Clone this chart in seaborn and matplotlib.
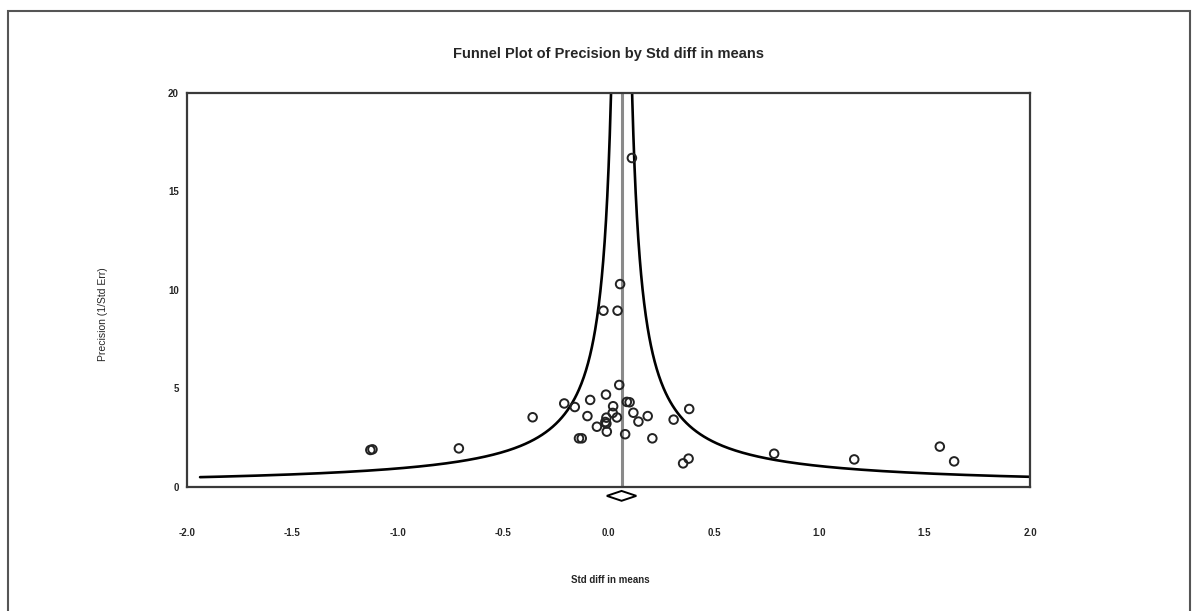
import numpy as np
import pandas as pd
import matplotlib.pyplot as plt
import matplotlib.patches as mpatches
import seaborn as sns

# 研究效应量与精度
std_diff = [-1.13, -1.12, -0.71, -0.36, -0.21, -0.16, -0.14, -0.127, -0.10, -0.087,
            -0.055, -0.012, -0.024, -0.010, -0.010, -0.015, -0.008, 0.022, 0.020, 0.040,
            0.043, 0.051, 0.055, 0.079, 0.087, 0.100, 0.111, 0.118, 0.142, 0.186,
            0.208, 0.309, 0.354, 0.380, 0.383, 0.786, 1.166, 1.572, 1.640]
precision = [1.88, 1.91, 1.96, 3.54, 4.24, 4.06, 2.47, 2.47, 3.60, 4.42,
             3.06, 4.69, 8.95, 3.52, 3.22, 3.30, 2.81, 4.10, 3.76, 3.53,
             8.95, 5.18, 10.3, 2.68, 4.32, 4.30, 16.7, 3.77, 3.32, 3.60,
             2.47, 3.42, 1.20, 1.44, 3.96, 1.69, 1.40, 2.05, 1.30]

# 合并效应及其置信区间
pooled_mean = 0.062
pooled_ci = [-0.008, 0.132]

x_ticks = [-2.0, -1.5, -1.0, -0.5, 0.0, 0.5, 1.0, 1.5, 2.0]
y_ticks = [0, 5, 10, 15, 20]

data = pd.DataFrame({'Std diff in means': std_diff, 'Precision': precision})

# 漏斗边界：mean ± 1/precision
p_grid = np.geomspace(0.5, 60, 400)
funnel = pd.DataFrame({
    'x': np.concatenate([pooled_mean - 1 / p_grid[::-1], pooled_mean + 1 / p_grid]),
    'y': np.concatenate([p_grid[::-1], p_grid]),
    'side': ['left'] * len(p_grid) + ['right'] * len(p_grid),
})

sns.set_style('white')
plt.rcParams['font.family'] = ['Liberation Sans', 'DejaVu Sans']

fig = plt.figure(figsize=(11.96, 6.11), dpi=100)
ax = fig.add_axes([187 / 1196, 1 - 487 / 611, (1030 - 187) / 1196, (487 - 93) / 611])

ax.axvline(pooled_mean, color='#8a8a8a', lw=2.2, zorder=1)
sns.lineplot(data=funnel, x='x', y='y', units='side', estimator=None, sort=False,
             color='black', lw=1.9, ax=ax, zorder=2)
sns.scatterplot(data=data, x='Std diff in means', y='Precision', ax=ax,
                marker='o', s=38, facecolor='none', edgecolor='#222222',
                linewidth=1.4, zorder=3)

# 合并效应的菱形
diamond = mpatches.Polygon([[pooled_ci[0], -0.45], [pooled_mean, -0.2],
                            [pooled_ci[1], -0.45], [pooled_mean, -0.7]],
                           closed=True, facecolor='white', edgecolor='black',
                           lw=1.4, clip_on=False, zorder=4)
ax.add_patch(diamond)

ax.set_xlim(-2.0, 2.0)
ax.set_ylim(0, 20)
ax.set_xticks(x_ticks)
ax.set_yticks(y_ticks)
ax.set_xticklabels([f'{v:.1f}' for v in x_ticks], fontsize=7, fontweight='bold')
ax.set_yticklabels([str(v) for v in y_ticks], fontsize=7, fontweight='bold')
ax.tick_params(axis='x', direction='inout', length=5, width=1, pad=27, color='#333333')
ax.tick_params(axis='y', direction='out', length=3, width=1, pad=3, color='#333333')
for s in ax.spines.values():
    s.set_color('#3a3a3a')
    s.set_linewidth(1.6)

ax.set_xlabel('Std diff in means', fontsize=7, fontweight='bold')
ax.xaxis.set_label_coords(0.502, -0.2246)
ax.set_ylabel('Precision (1/Std Err)', fontsize=7.5)
ax.yaxis.set_label_coords(-0.0937, 0.439)
ax.set_title('Funnel Plot of Precision by Std diff in means', fontsize=10.5,
             fontweight='bold', pad=25)

# 外框
fig.add_artist(mpatches.Rectangle((8 / 1196, -0.1), (1190 - 8) / 1196, 1.1 - 11 / 611,
                                  transform=fig.transFigure, fill=False,
                                  edgecolor='#555555', lw=1.5))

fig.savefig('out.png', dpi=100)
